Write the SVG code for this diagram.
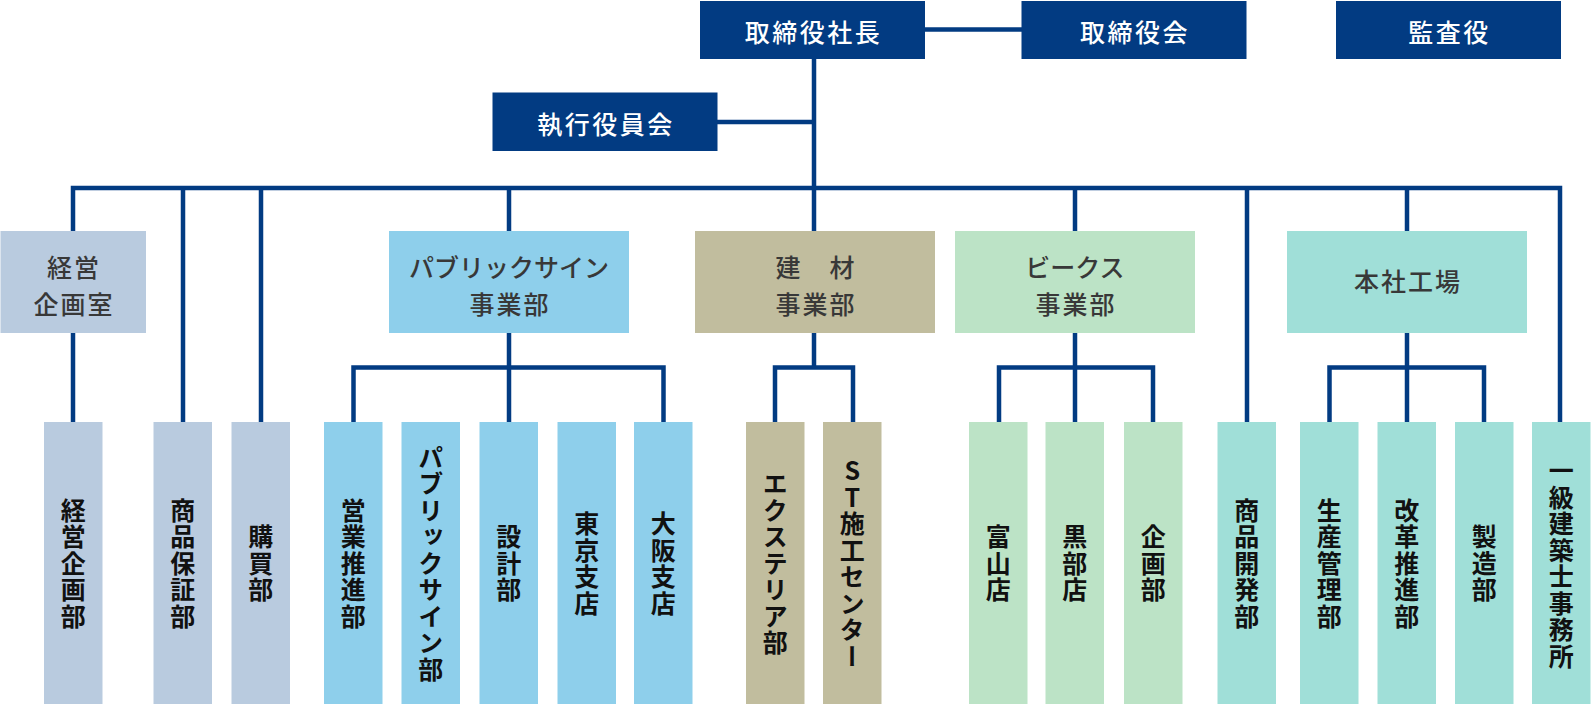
<svg xmlns="http://www.w3.org/2000/svg" width="1591" height="704" viewBox="0 0 1591 704">
<style>
.top rect{fill:#023b82}
.top text{fill:#fff;font-family:"Noto Sans CJK JP","Noto Sans CJK SC",sans-serif;font-size:25px;letter-spacing:2.5px;font-weight:500;text-anchor:middle;dominant-baseline:central}
.div text{fill:#383838;font-family:"Noto Sans CJK JP","Noto Sans CJK SC",sans-serif;font-size:25px;letter-spacing:2px;font-weight:500;text-anchor:middle;dominant-baseline:central}
.div text.kana{letter-spacing:0}
.leaf text{fill:#111;font-family:"Noto Sans CJK JP","Noto Sans CJK SC",sans-serif;font-size:25px;letter-spacing:1.5px;font-weight:700;text-anchor:middle;writing-mode:vertical-rl;text-orientation:upright}
.c1{fill:#b9cbdf}.c2{fill:#8ecfeb}.c3{fill:#c1bd9e}.c4{fill:#bce3c6}.c5{fill:#a0dfd8}
#connectors path{fill:none;stroke:#023b82;stroke-width:4.5;stroke-linejoin:miter;stroke-linecap:butt}
</style>
<g id="connectors">
<path d="M814 59V188"/>
<path d="M925 29.5H1022"/>
<path d="M717 122H814"/>
<path d="M73 231V188H1560V422"/>
<path d="M73 333V422"/>
<path d="M183 188V422"/>
<path d="M261 188V422"/>
<path d="M509 188V231"/>
<path d="M814 188V231"/>
<path d="M1075 188V231"/>
<path d="M1247 188V422"/>
<path d="M1407 188V231"/>
<path d="M509 333V422"/>
<path d="M353.5 422V367.5H663.5V422"/>
<path d="M814 333V367.5"/>
<path d="M775 422V367.5H853V422"/>
<path d="M1075 333V422"/>
<path d="M999 422V367.5H1153V422"/>
<path d="M1407 333V422"/>
<path d="M1329.5 422V367.5H1484V422"/>
</g>
<g id="president" class="top"><rect x="700" y="1" width="225" height="58"/><text x="813.5" y="31">取締役社長</text></g>
<g id="board" class="top"><rect x="1021.5" y="1" width="225" height="58"/><text x="1135" y="31">取締役会</text></g>
<g id="auditor" class="top"><rect x="1336" y="1" width="225" height="58"/><text x="1449.5" y="31">監査役</text></g>
<g id="exec" class="top"><rect x="492.5" y="92.5" width="225" height="58.5"/><text x="606" y="123">執行役員会</text></g>

<g id="keiei-kikaku-shitsu" class="div"><rect class="c1" x="0.5" y="231" width="145.5" height="102"/><text x="74" y="266">経営</text><text x="74" y="303">企画室</text></g>
<g id="public-sign-div" class="div"><rect class="c2" x="389" y="231" width="240" height="102"/><text class="kana" x="509" y="266">パブリックサイン</text><text x="510" y="303">事業部</text></g>
<g id="kenzai-div" class="div"><rect class="c3" x="695" y="231" width="240" height="102"/><text x="816" y="266">建　材</text><text x="816" y="303">事業部</text></g>
<g id="beaks-div" class="div"><rect class="c4" x="955" y="231" width="240" height="102"/><text class="kana" x="1075" y="266">ビークス</text><text x="1076" y="303">事業部</text></g>
<g id="honsha-kojo" class="div"><rect class="c5" x="1287" y="231" width="240" height="102"/><text x="1408" y="280">本社工場</text></g>

<g id="leaf-keiei" class="leaf"><rect class="c1" x="44" y="422" width="58.5" height="282"/><text x="73.2" y="564">経営企画部</text></g>
<g id="leaf-hosho" class="leaf"><rect class="c1" x="153.5" y="422" width="58.5" height="282"/><text x="182.7" y="564">商品保証部</text></g>
<g id="leaf-kobai" class="leaf"><rect class="c1" x="231.5" y="422" width="58.5" height="282"/><text x="260.7" y="564">購買部</text></g>
<g id="leaf-eigyo" class="leaf"><rect class="c2" x="324" y="422" width="58.5" height="282"/><text x="353.2" y="564">営業推進部</text></g>
<g id="leaf-public" class="leaf"><rect class="c2" x="401.5" y="422" width="58.5" height="282"/><text x="430.7" y="564">パブリックサイン部</text></g>
<g id="leaf-sekkei" class="leaf"><rect class="c2" x="479.5" y="422" width="58.5" height="282"/><text x="508.7" y="564">設計部</text></g>
<g id="leaf-tokyo" class="leaf"><rect class="c2" x="557.5" y="422" width="58.5" height="282"/><text x="586.7" y="564">東京支店</text></g>
<g id="leaf-osaka" class="leaf"><rect class="c2" x="634" y="422" width="58.5" height="282"/><text x="663.2" y="564">大阪支店</text></g>
<g id="leaf-exterior" class="leaf"><rect class="c3" x="746" y="422" width="58.5" height="282"/><text x="775.2" y="564">エクステリア部</text></g>
<g id="leaf-st" class="leaf"><rect class="c3" x="823" y="422" width="58.5" height="282"/><text x="852.2" y="564">ST施工センター</text></g>
<g id="leaf-toyama" class="leaf"><rect class="c4" x="969" y="422" width="58.5" height="282"/><text x="998.2" y="564">富山店</text></g>
<g id="leaf-kurobe" class="leaf"><rect class="c4" x="1045.5" y="422" width="58.5" height="282"/><text x="1074.7" y="564">黒部店</text></g>
<g id="leaf-kikaku" class="leaf"><rect class="c4" x="1124" y="422" width="58.5" height="282"/><text x="1153.2" y="564">企画部</text></g>
<g id="leaf-kaihatsu" class="leaf"><rect class="c5" x="1217.5" y="422" width="58.5" height="282"/><text x="1246.7" y="564">商品開発部</text></g>
<g id="leaf-seisan" class="leaf"><rect class="c5" x="1300" y="422" width="58.5" height="282"/><text x="1329.2" y="564">生産管理部</text></g>
<g id="leaf-kaikaku" class="leaf"><rect class="c5" x="1377.5" y="422" width="58.5" height="282"/><text x="1406.7" y="564">改革推進部</text></g>
<g id="leaf-seizo" class="leaf"><rect class="c5" x="1455" y="422" width="58.5" height="282"/><text x="1484.2" y="564">製造部</text></g>
<g id="leaf-kenchikushi" class="leaf"><rect class="c5" x="1532" y="422" width="58.5" height="282"/><text x="1561.2" y="564">一級建築士事務所</text></g>
</svg>
